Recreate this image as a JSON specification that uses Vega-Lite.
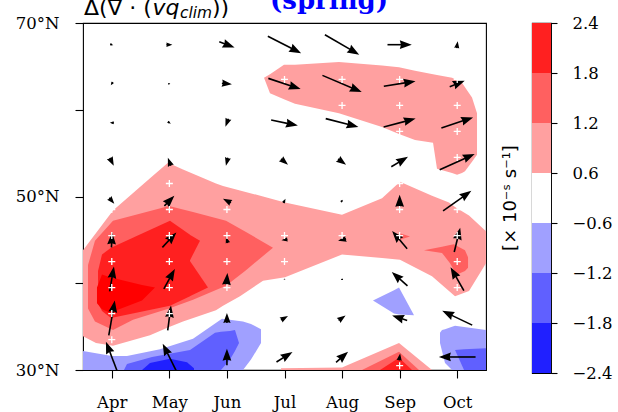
{
  "$schema": "https://vega.github.io/schema/vega-lite/v6.json",
  "padding": {"left": 14, "top": -13, "right": 0, "bottom": 0},
  "background": "white",
  "config": {
    "view": {"stroke": "#000", "strokeWidth": 1.1},
    "axis": {"labelFont": "DejaVu Serif", "labelFontSize": 16.5, "labelColor": "#000", "tickColor": "#000", "tickWidth": 1.1, "domain": false, "grid": false, "labelOverlap": false}
  },
  "datasets": {
    "regions": [
      {"r":"P1","v":0.9,"m":3.5,"lo":33.9,"hi":43.8},{"r":"P1","v":0.9,"m":3.726,"lo":33.1,"hi":45.8},{"r":"P1","v":0.9,"m":4.021,"lo":32.8,"hi":48.4},{"r":"P1","v":0.9,"m":4.664,"lo":34.0,"hi":52.1},{"r":"P1","v":0.9,"m":4.976,"lo":34.9,"hi":53.9},{"r":"P1","v":0.9,"m":5.237,"lo":35.6,"hi":53.1},{"r":"P1","v":0.9,"m":5.810,"lo":36.9,"hi":51.5},{"r":"P1","v":0.9,"m":5.932,"lo":37.4,"hi":51.2},{"r":"P1","v":0.9,"m":6.227,"lo":38.5,"hi":50.7},{"r":"P1","v":0.9,"m":6.627,"lo":40.3,"hi":50.0},{"r":"P1","v":0.9,"m":7.009,"lo":40.7,"hi":49.3},{"r":"P1","v":0.9,"m":7.999,"lo":43.3,"hi":47.9},{"r":"P1","v":0.9,"m":8.694,"lo":42.9,"hi":49.8},{"r":"P1","v":0.9,"m":9.006,"lo":42.7,"hi":51.7},{"r":"P1","v":0.9,"m":9.562,"lo":40.8,"hi":50.1},{"r":"P1","v":0.9,"m":9.857,"lo":39.1,"hi":49.3},{"r":"P1","v":0.9,"m":9.962,"lo":38.5,"hi":48.8},{"r":"P1","v":0.9,"m":10.205,"lo":39.1,"hi":47.8},{"r":"P1","v":0.9,"m":10.5,"lo":42.3,"hi":46.0},
      {"r":"UB","v":0.9,"m":6.644,"lo":63.7,"hi":63.7},{"r":"UB","v":0.9,"m":6.748,"lo":61.9,"hi":64.1},{"r":"UB","v":0.9,"m":6.991,"lo":61.2,"hi":65.2},{"r":"UB","v":0.9,"m":7.182,"lo":60.7,"hi":65.2},{"r":"UB","v":0.9,"m":7.946,"lo":59.6,"hi":65.5},{"r":"UB","v":0.9,"m":8.694,"lo":58.0,"hi":65.1},{"r":"UB","v":0.9,"m":8.989,"lo":57.2,"hi":64.9},{"r":"UB","v":0.9,"m":9.267,"lo":56.5,"hi":64.5},{"r":"UB","v":0.9,"m":9.580,"lo":56.2,"hi":64.1},{"r":"UB","v":0.9,"m":9.649,"lo":53.2,"hi":64.0},{"r":"UB","v":0.9,"m":9.910,"lo":52.7,"hi":63.7},{"r":"UB","v":0.9,"m":9.997,"lo":52.5,"hi":63.4},{"r":"UB","v":0.9,"m":10.083,"lo":52.7,"hi":63.1},{"r":"UB","v":0.9,"m":10.135,"lo":52.9,"hi":62.6},{"r":"UB","v":0.9,"m":10.257,"lo":54.0,"hi":61.4},{"r":"UB","v":0.9,"m":10.344,"lo":54.8,"hi":59.6},
      {"r":"SP","v":0.9,"m":6.939,"lo":30,"hi":30.2},{"r":"SP","v":0.9,"m":7.999,"lo":30,"hi":30.3},{"r":"SP","v":0.9,"m":8.989,"lo":30,"hi":33.1},{"r":"SP","v":0.9,"m":9.562,"lo":30,"hi":30},
      {"r":"LB1","v":-0.9,"m":3.5,"lo":30,"hi":32.2},{"r":"LB1","v":-0.9,"m":4.004,"lo":30,"hi":31.6},{"r":"LB1","v":-0.9,"m":4.264,"lo":30,"hi":31.6},{"r":"LB1","v":-0.9,"m":4.838,"lo":30,"hi":32.4},{"r":"LB1","v":-0.9,"m":5.411,"lo":30,"hi":33.6},{"r":"LB1","v":-0.9,"m":5.914,"lo":30,"hi":35.9},{"r":"LB1","v":-0.9,"m":6.279,"lo":30,"hi":35.6},{"r":"LB1","v":-0.9,"m":6.418,"lo":31.2,"hi":35.3},{"r":"LB1","v":-0.9,"m":6.592,"lo":33.1,"hi":34.7},
      {"r":"AB","v":-0.9,"m":8.537,"lo":38.0,"hi":38.0},{"r":"AB","v":-0.9,"m":8.902,"lo":36.5,"hi":39.2},{"r":"AB","v":-0.9,"m":8.989,"lo":36.4,"hi":39.5},{"r":"AB","v":-0.9,"m":9.250,"lo":36.3,"hi":36.3},
      {"r":"OB","v":-0.9,"m":9.701,"lo":33.1,"hi":34.3},{"r":"OB","v":-0.9,"m":9.736,"lo":32.2,"hi":34.6},{"r":"OB","v":-0.9,"m":9.788,"lo":30.8,"hi":34.7},{"r":"OB","v":-0.9,"m":9.910,"lo":30,"hi":35.0},{"r":"OB","v":-0.9,"m":9.962,"lo":30,"hi":35.1},{"r":"OB","v":-0.9,"m":10.5,"lo":30,"hi":34.6},
      {"r":"M1","v":1.5,"m":3.587,"lo":37.1,"hi":42.1},{"r":"M1","v":1.5,"m":3.708,"lo":35.6,"hi":44.9},{"r":"M1","v":1.5,"m":4.021,"lo":34.6,"hi":47.2},{"r":"M1","v":1.5,"m":4.369,"lo":35.8,"hi":47.8},{"r":"M1","v":1.5,"m":4.994,"lo":37.1,"hi":48.9},{"r":"M1","v":1.5,"m":5.411,"lo":38.1,"hi":48.2},{"r":"M1","v":1.5,"m":5.984,"lo":39.7,"hi":47.2},{"r":"M1","v":1.5,"m":6.331,"lo":41.5,"hi":45.9},{"r":"M1","v":1.5,"m":6.800,"lo":44.1,"hi":44.1},
      {"r":"SM","v":1.5,"m":8.346,"lo":30,"hi":30},{"r":"SM","v":1.5,"m":8.989,"lo":30,"hi":32.1},{"r":"SM","v":1.5,"m":9.336,"lo":30,"hi":30},
      {"r":"SS","v":1.5,"m":8.989,"lo":45.0,"hi":45.8},{"r":"SS","v":1.5,"m":9.180,"lo":45.4,"hi":45.4},
      {"r":"OM","v":1.5,"m":9.423,"lo":43.8,"hi":43.8},{"r":"OM","v":1.5,"m":9.736,"lo":43.5,"hi":44.2},{"r":"OM","v":1.5,"m":9.875,"lo":42.3,"hi":44.4},{"r":"OM","v":1.5,"m":9.944,"lo":41.5,"hi":44.5},{"r":"OM","v":1.5,"m":9.997,"lo":41.0,"hi":44.3},{"r":"OM","v":1.5,"m":10.135,"lo":41.4,"hi":43.8},{"r":"OM","v":1.5,"m":10.188,"lo":41.8,"hi":43.0},
      {"r":"MB1","v":-1.5,"m":4.212,"lo":30,"hi":30},{"r":"MB1","v":-1.5,"m":4.264,"lo":30,"hi":30.7},{"r":"MB1","v":-1.5,"m":4.699,"lo":30,"hi":31.5},{"r":"MB1","v":-1.5,"m":5.359,"lo":30,"hi":32.3},{"r":"MB1","v":-1.5,"m":5.793,"lo":30,"hi":34.3},{"r":"MB1","v":-1.5,"m":5.897,"lo":30,"hi":34.4},{"r":"MB1","v":-1.5,"m":6.053,"lo":31.2,"hi":34.5},{"r":"MB1","v":-1.5,"m":6.140,"lo":32.2,"hi":34.6},{"r":"MB1","v":-1.5,"m":6.210,"lo":33.1,"hi":33.1},
      {"r":"OMB","v":-1.5,"m":9.962,"lo":32.3,"hi":32.3},{"r":"OMB","v":-1.5,"m":10.118,"lo":30,"hi":32.4},{"r":"OMB","v":-1.5,"m":10.5,"lo":30,"hi":32.5},
      {"r":"R1","v":2.1,"m":3.761,"lo":37.7,"hi":41.4},{"r":"R1","v":2.1,"m":3.830,"lo":36.8,"hi":43.3},{"r":"R1","v":2.1,"m":3.986,"lo":36.0,"hi":44.1},{"r":"R1","v":2.1,"m":5.011,"lo":37.4,"hi":47.2},{"r":"R1","v":2.1,"m":5.359,"lo":38.5,"hi":45.6},
      {"r":"R1a","v":2.1,"m":5.355,"lo":42.6,"hi":45.6},{"r":"R1a","v":2.1,"m":5.532,"lo":44.9,"hi":44.9},
      {"r":"R1b","v":2.1,"m":5.355,"lo":38.5,"hi":42.6},{"r":"R1b","v":2.1,"m":5.671,"lo":39.5,"hi":39.5},
      {"r":"SR","v":2.1,"m":8.659,"lo":30,"hi":30},{"r":"SR","v":2.1,"m":8.989,"lo":30,"hi":31.4},{"r":"SR","v":2.1,"m":9.215,"lo":30,"hi":30},
      {"r":"DB1","v":-2.1,"m":4.525,"lo":30,"hi":30},{"r":"DB1","v":-2.1,"m":4.664,"lo":30,"hi":30.8},{"r":"DB1","v":-2.1,"m":5.011,"lo":30,"hi":31.3},{"r":"DB1","v":-2.1,"m":5.306,"lo":30,"hi":30.9},{"r":"DB1","v":-2.1,"m":5.428,"lo":30,"hi":30.2},
      {"r":"PR","v":2.7,"m":3.743,"lo":37.7,"hi":39.5},{"r":"PR","v":2.7,"m":3.830,"lo":37.0,"hi":41.0},{"r":"PR","v":2.7,"m":3.969,"lo":36.6,"hi":40.7},{"r":"PR","v":2.7,"m":4.525,"lo":38.0,"hi":39.8},{"r":"PR","v":2.7,"m":4.751,"lo":39.5,"hi":39.5}
    ],
    "arrows": [
      {"m":4,"lat":67.5,"u":3,"v":-1},{"m":5,"lat":67.5,"u":6,"v":0},{"m":6,"lat":67.5,"u":15.3,"v":-5.7},{"m":7,"lat":67.5,"u":33.3,"v":-17},{"m":8,"lat":67.5,"u":34.3,"v":-20},{"m":9,"lat":67.5,"u":24.3,"v":0},{"m":10,"lat":67.5,"u":1,"v":7},
      {"m":4,"lat":63,"u":-2,"v":-3},{"m":5,"lat":63,"u":2,"v":0},{"m":6,"lat":63,"u":10,"v":-1},{"m":7,"lat":63,"u":32.3,"v":-10.7},{"m":8,"lat":63,"u":39.3,"v":-16.7},{"m":9,"lat":63,"u":31.7,"v":5},{"m":10,"lat":63,"u":15,"v":6},
      {"m":4,"lat":58.5,"u":-4,"v":0},{"m":5,"lat":58.5,"u":3,"v":-2},{"m":6,"lat":58.5,"u":-3,"v":-8},{"m":7,"lat":58.5,"u":26.7,"v":-5.7},{"m":8,"lat":58.5,"u":32.7,"v":-8.3},{"m":9,"lat":58.5,"u":32,"v":8.3},{"m":10,"lat":58.5,"u":31.7,"v":10.7},
      {"m":4,"lat":54,"u":4,"v":-8},{"m":5,"lat":54,"u":-3,"v":8},{"m":6,"lat":54,"u":-2,"v":-8},{"m":7,"lat":54,"u":7,"v":-6},{"m":8,"lat":54,"u":8,"v":-6},{"m":9,"lat":54,"u":16.7,"v":10},{"m":10,"lat":54,"u":35,"v":15.7},
      {"m":4,"lat":49.5,"u":5,"v":-6},{"m":5,"lat":49.5,"u":10,"v":10},{"m":6,"lat":49.5,"u":-8,"v":4},{"m":7,"lat":49.5,"u":2,"v":4},{"m":8,"lat":49.5,"u":2,"v":2},{"m":9,"lat":49.5,"u":0,"v":12},{"m":10,"lat":49.5,"u":28.3,"v":20},
      {"m":4,"lat":45,"u":0.7,"v":15},{"m":5,"lat":45,"u":14,"v":15},{"m":6,"lat":45,"u":-2,"v":6},{"m":7,"lat":45,"u":-6,"v":-1},{"m":8,"lat":45,"u":-8,"v":-2},{"m":9,"lat":45,"u":-15,"v":17.7},{"m":10,"lat":45,"u":6,"v":24.3},
      {"m":4,"lat":40.5,"u":4.3,"v":25},{"m":5,"lat":40.5,"u":11,"v":20},{"m":6,"lat":40.5,"u":1,"v":12},{"m":7,"lat":40.5,"u":0,"v":1},{"m":8,"lat":40.5,"u":0,"v":2},{"m":9,"lat":40.5,"u":-15.7,"v":14},{"m":10,"lat":40.5,"u":-13.3,"v":23.3},
      {"m":4,"lat":36,"u":6,"v":35},{"m":5,"lat":36,"u":3.3,"v":25},{"m":6,"lat":36,"u":0,"v":10},{"m":7,"lat":36,"u":7,"v":4},{"m":8,"lat":36,"u":7,"v":5},{"m":9,"lat":36,"u":-15,"v":5},{"m":10,"lat":36,"u":-30,"v":14.3},
      {"m":4,"lat":31.5,"u":-11.7,"v":30.7},{"m":5,"lat":31.5,"u":-13.3,"v":26.7},{"m":6,"lat":31.5,"u":0,"v":16.7},{"m":7,"lat":31.5,"u":16,"v":10},{"m":8,"lat":31.5,"u":12,"v":10.7},{"m":9,"lat":31.5,"u":1,"v":7},{"m":10,"lat":31.5,"u":-36.7,"v":0}
    ]
  },
  "spacing": 14,
  "hconcat": [
    {
      "width": 403,
      "height": 347,
      "layer": [
        {
          "data": {"name": "regions"},
          "transform": [{"filter": "abs(datum.v) < 1"}],
          "mark": {"type": "area", "clip": true},
          "encoding": {
            "x": {"field": "m", "type": "quantitative",
                  "scale": {"domain": [3.5, 10.5], "nice": false, "zero": false},
                  "axis": {"values": [4,5,6,7,8,9,10], "labelExpr": "['','','','','Apr','May','Jun','Jul','Aug','Sep','Oct'][datum.value]", "tickSize": 8, "labelPadding": 16, "title": null}},
            "y": {"field": "hi", "type": "quantitative", "stack": null,
                  "scale": {"domain": [30, 70], "nice": false, "zero": false},
                  "axis": {"values": [30,40,50,60,70], "labelExpr": "datum.value % 20 == 10 ? datum.value + '°N' : ''", "tickSize": 8, "labelPadding": 16, "title": null}},
            "y2": {"field": "lo"},
            "detail": {"field": "r", "type": "nominal"},
            "color": {"field": "v", "type": "quantitative",
                      "scale": {"type": "threshold", "domain": [-2.4,-1.8,-1.2,-0.6,0.6,1.2,1.8,2.4], "range": ["#0000ff","#2020ff","#6060ff","#a0a0ff","#ffffff","#ffa0a0","#ff6060","#ff2020","#ff0000"]},
                      "legend": null}
          }
        },
        {
          "data": {"name": "regions"},
          "transform": [{"filter": "abs(datum.v) > 1 && abs(datum.v) < 1.8"}],
          "mark": {"type": "area", "clip": true},
          "encoding": {
            "x": {"field": "m", "type": "quantitative"},
            "y": {"field": "hi", "type": "quantitative", "stack": null},
            "y2": {"field": "lo"},
            "detail": {"field": "r", "type": "nominal"},
            "color": {"field": "v", "type": "quantitative",
                      "scale": {"type": "threshold", "domain": [-2.4,-1.8,-1.2,-0.6,0.6,1.2,1.8,2.4], "range": ["#0000ff","#2020ff","#6060ff","#a0a0ff","#ffffff","#ffa0a0","#ff6060","#ff2020","#ff0000"]},
                      "legend": null}
          }
        },
        {
          "data": {"name": "regions"},
          "transform": [{"filter": "abs(datum.v) > 1.8 && abs(datum.v) < 2.4"}],
          "mark": {"type": "area", "clip": true},
          "encoding": {
            "x": {"field": "m", "type": "quantitative"},
            "y": {"field": "hi", "type": "quantitative", "stack": null},
            "y2": {"field": "lo"},
            "detail": {"field": "r", "type": "nominal"},
            "color": {"field": "v", "type": "quantitative",
                      "scale": {"type": "threshold", "domain": [-2.4,-1.8,-1.2,-0.6,0.6,1.2,1.8,2.4], "range": ["#0000ff","#2020ff","#6060ff","#a0a0ff","#ffffff","#ffa0a0","#ff6060","#ff2020","#ff0000"]},
                      "legend": null}
          }
        },
        {
          "data": {"name": "regions"},
          "transform": [{"filter": "abs(datum.v) > 2.4"}],
          "mark": {"type": "area", "clip": true},
          "encoding": {
            "x": {"field": "m", "type": "quantitative"},
            "y": {"field": "hi", "type": "quantitative", "stack": null},
            "y2": {"field": "lo"},
            "detail": {"field": "r", "type": "nominal"},
            "color": {"field": "v", "type": "quantitative",
                      "scale": {"type": "threshold", "domain": [-2.4,-1.8,-1.2,-0.6,0.6,1.2,1.8,2.4], "range": ["#0000ff","#2020ff","#6060ff","#a0a0ff","#ffffff","#ffa0a0","#ff6060","#ff2020","#ff0000"]},
                      "legend": null}
          }
        },
        {
          "data": {"name": "arrows"},
          "transform": [
            {"calculate": "sqrt(datum.u*datum.u + datum.v*datum.v)", "as": "L"},
            {"calculate": "min(12, datum.L)", "as": "h"},
            {"calculate": "datum.m - datum.u/2/57.57", "as": "xa"},
            {"calculate": "datum.lat - datum.v/2/8.675", "as": "ya"},
            {"calculate": "datum.m + (datum.u/2 - datum.h/2*datum.u/max(datum.L,0.001))/57.57", "as": "xh"},
            {"calculate": "datum.lat + (datum.v/2 - datum.h/2*datum.v/max(datum.L,0.001))/8.675", "as": "yh"}
          ],
          "mark": {"type": "rule", "color": "#000", "strokeWidth": 1.6, "clip": true},
          "encoding": {
            "x": {"field": "xa", "type": "quantitative"},
            "y": {"field": "ya", "type": "quantitative"},
            "x2": {"field": "xh"},
            "y2": {"field": "yh"}
          }
        },
        {
          "data": {"name": "arrows"},
          "transform": [
            {"calculate": "sqrt(datum.u*datum.u + datum.v*datum.v)", "as": "L"},
            {"calculate": "min(12, datum.L)", "as": "h"},
            {"calculate": "datum.m + (datum.u/2 - datum.h/2*datum.u/max(datum.L,0.001))/57.57", "as": "xh"},
            {"calculate": "datum.lat + (datum.v/2 - datum.h/2*datum.v/max(datum.L,0.001))/8.675", "as": "yh"},
            {"calculate": "atan2(datum.u, datum.v)*180/PI", "as": "ang"},
            {"calculate": "datum.h*datum.h", "as": "sz"}
          ],
          "mark": {"type": "point", "shape": "M0,-1L0.73,1L0,0.8L-0.73,1Z", "filled": true, "color": "#000", "opacity": 1, "strokeWidth": 0, "clip": true},
          "encoding": {
            "x": {"field": "xh", "type": "quantitative"},
            "y": {"field": "yh", "type": "quantitative"},
            "size": {"field": "sz", "type": "quantitative", "scale": null},
            "angle": {"field": "ang", "type": "quantitative", "scale": null}
          }
        },
        {
          "data": {"values": [
            {"m":7,"lat":63.5},{"m":8,"lat":63.5},{"m":9,"lat":63.5},{"m":10,"lat":63.5},
            {"m":8,"lat":60.5},{"m":9,"lat":60.5},{"m":10,"lat":60.5},
            {"m":9,"lat":57.5},{"m":10,"lat":57.5},
            {"m":10,"lat":54.5},
            {"m":5,"lat":51.5},{"m":9,"lat":51.5},
            {"m":4,"lat":48.5},{"m":5,"lat":48.5},{"m":6,"lat":48.5},{"m":9,"lat":48.5},{"m":10,"lat":48.5},
            {"m":4,"lat":45.5},{"m":5,"lat":45.5},{"m":6,"lat":45.5},{"m":7,"lat":45.5},{"m":8,"lat":45.5},{"m":9,"lat":45.5},{"m":10,"lat":45.5},
            {"m":4,"lat":42.5},{"m":5,"lat":42.5},{"m":6,"lat":42.5},{"m":7,"lat":42.5},{"m":10,"lat":42.5},
            {"m":4,"lat":39.5},{"m":5,"lat":39.5},{"m":6,"lat":39.5},{"m":10,"lat":39.5},
            {"m":4,"lat":36.5},{"m":5,"lat":36.5},
            {"m":4,"lat":33.5},
            {"m":9,"lat":30.5}
          ]},
          "mark": {"type": "point", "shape": "M-1,0L1,0M0,-1L0,1", "filled": false, "color": "#ffffff", "strokeWidth": 1.3, "size": 49, "opacity": 1, "clip": true},
          "encoding": {
            "x": {"field": "m", "type": "quantitative"},
            "y": {"field": "lat", "type": "quantitative"}
          }
        },
        {
          "data": {"values": [{}]},
          "mark": {"type": "text", "text": "Δ(∇ · (", "font": "DejaVu Sans", "fontSize": 22, "align": "left", "baseline": "alphabetic", "color": "#000"},
          "encoding": {"x": {"datum": 3.517, "type": "quantitative"}, "y": {"datum": 70.95, "type": "quantitative"}}
        },
        {
          "data": {"values": [{}]},
          "mark": {"type": "text", "text": "vq", "font": "DejaVu Sans", "fontStyle": "italic", "fontSize": 22, "align": "left", "baseline": "alphabetic", "color": "#000"},
          "encoding": {"x": {"datum": 4.707, "type": "quantitative"}, "y": {"datum": 70.95, "type": "quantitative"}}
        },
        {
          "data": {"values": [{}]},
          "mark": {"type": "text", "text": "clim", "font": "DejaVu Sans", "fontStyle": "italic", "fontSize": 15.4, "align": "left", "baseline": "alphabetic", "color": "#000"},
          "encoding": {"x": {"datum": 5.185, "type": "quantitative"}, "y": {"datum": 70.55, "type": "quantitative"}}
        },
        {
          "data": {"values": [{}]},
          "mark": {"type": "text", "text": "))", "font": "DejaVu Sans", "fontSize": 22, "align": "left", "baseline": "alphabetic", "color": "#000"},
          "encoding": {"x": {"datum": 5.741, "type": "quantitative"}, "y": {"datum": 70.95, "type": "quantitative"}}
        },
        {
          "data": {"values": [{}]},
          "mark": {"type": "text", "text": "(spring)", "font": "DejaVu Serif", "fontWeight": "bold", "fontSize": 26, "align": "left", "baseline": "alphabetic", "color": "#0000ff"},
          "encoding": {"x": {"datum": 6.748, "type": "quantitative"}, "y": {"datum": 71.6, "type": "quantitative"}}
        }
      ]
    },
    {
      "width": 19,
      "height": 350,
      "title": {"text": "[× 10⁻ˢ s⁻¹]", "orient": "left", "anchor": "middle", "font": "DejaVu Sans", "fontSize": 18, "fontWeight": "normal", "offset": 12, "color": "#000"},
      "data": {"values": [
        {"lo":0,"hi":1,"v":-2.1},{"lo":1,"hi":2,"v":-1.5},{"lo":2,"hi":3,"v":-0.9},{"lo":3,"hi":4,"v":0},{"lo":4,"hi":5,"v":0.9},{"lo":5,"hi":6,"v":1.5},{"lo":6,"hi":7,"v":2.1}
      ]},
      "mark": {"type": "rect"},
      "encoding": {
        "x": {"datum": 0, "type": "quantitative", "scale": {"domain": [0, 1], "nice": false, "zero": false}, "axis": null},
        "x2": {"datum": 1},
        "y": {"field": "lo", "type": "quantitative",
              "scale": {"domain": [0, 7], "nice": false, "zero": false},
              "axis": {"orient": "right", "values": [0,1,2,3,4,5,6,7], "labelExpr": "['−2.4','−1.8','−1.2','−0.6','0.6','1.2','1.8','2.4'][datum.value]", "tickSize": 6, "labelPadding": 15, "title": null}},
        "y2": {"field": "hi"},
        "color": {"field": "v", "type": "quantitative",
                  "scale": {"type": "threshold", "domain": [-2.4,-1.8,-1.2,-0.6,0.6,1.2,1.8,2.4], "range": ["#0000ff","#2020ff","#6060ff","#a0a0ff","#ffffff","#ffa0a0","#ff6060","#ff2020","#ff0000"]},
                  "legend": null}
      }
    }
  ]
}
